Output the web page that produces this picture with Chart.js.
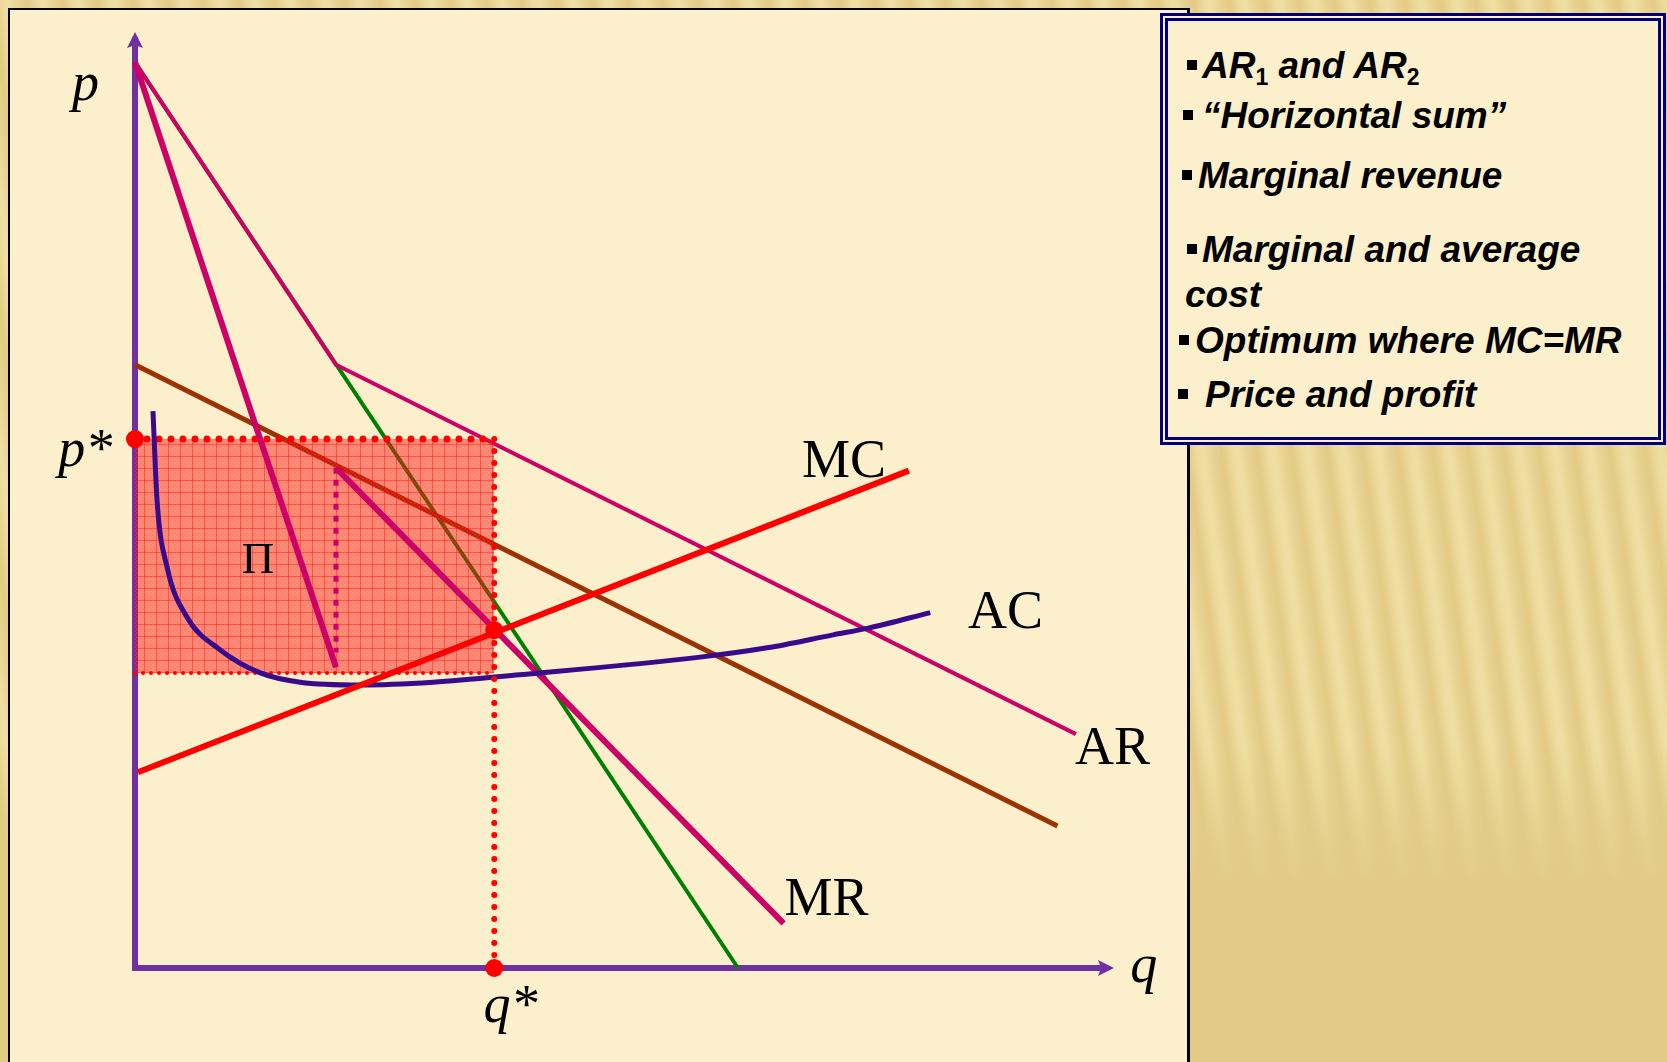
<!DOCTYPE html>
<html>
<head>
<meta charset="utf-8">
<script src="https://cdn.jsdelivr.net/npm/chart.js@4.4.1/dist/chart.umd.min.js"></script>
<style>
html, body { margin: 0; padding: 0; }
body {
  width: 1667px; height: 1062px; overflow: hidden; position: relative;
  background:
    linear-gradient(to bottom, rgba(226,201,133,0) 0%, rgba(226,201,133,0) 70%, rgba(226,201,133,1) 84%),
    repeating-linear-gradient(82deg, #e4cb86 0px, #eddb9e 10px, #f0dfa4 16px, #e9d494 24px, #e3ca85 35px);
}
#panel { position: absolute; left: 8px; top: 8px; width: 1177px; height: 1070px; background: #fcefcb; border: 2px solid #000; border-right-width: 3px; }
#chartWrap { position: absolute; left: 0; top: 0; width: 1667px; height: 1062px; }
#notes { position: absolute; left: 1160px; top: 13px; width: 490px; height: 416px; background: #fcefcb; border: 8px double #000080; }
.ln { position: absolute; font-family: "Liberation Sans", Arial, sans-serif; font-weight: bold; font-style: italic; font-size: 37px; line-height: 37px; white-space: nowrap; color: #000; }
.ln sub { font-size: 23px; font-style: normal; vertical-align: -7px; line-height: 0; }
.b { position: absolute; width: 10px; height: 10px; background: #000; }
</style>
</head>
<body>
<div id="panel"></div>
<div id="chartWrap"><canvas id="monopolyChart"></canvas></div>
<div id="notes"></div>
<div class="b" style="left:1187px;top:60px"></div><div class="ln" style="left:1202px;top:47px">AR<sub>1</sub> and AR<sub>2</sub></div>
<div class="b" style="left:1183px;top:110px"></div><div class="ln" style="left:1202px;top:97px">“Horizontal sum”</div>
<div class="b" style="left:1182px;top:170px"></div><div class="ln" style="left:1198px;top:157px">Marginal revenue</div>
<div class="b" style="left:1187px;top:244px"></div><div class="ln" style="left:1202px;top:231px">Marginal and average</div>
<div class="ln" style="left:1185px;top:276px">cost</div>
<div class="b" style="left:1179px;top:335px"></div><div class="ln" style="left:1195px;top:322px">Optimum where MC=MR</div>
<div class="b" style="left:1178px;top:389px"></div><div class="ln" style="left:1205px;top:376px">Price and profit</div>
<script>
// quantities (q) and prices (p), axes 0..100
const ar1Q = [0, 62.1], ar1P = [97.6, 0];
const mr1Q = [0, 20.7], mr1P = [97.6, 32.4];
const ar2Q = [0, 95.0], ar2P = [65.0, 15.3];
const arQ = [0, 20.7, 96.9], arP = [97.6, 65.0, 25.2];
const mrQ = [20.7, 66.8], mrP = [53.9, 4.8];
const mrGapQ = [20.7, 20.7], mrGapP = [53.9, 34.0];
const mcQ = [0.3, 79.7], mcP = [21.1, 53.6];
const acQ = [1.85, 2.27, 3.3, 5.36, 8.75, 12.9, 17.0, 23.2, 30.7, 39.6, 58.2, 65.1, 71.9, 75.4, 81.9];
const acP = [60.0, 50.4, 43.2, 37.8, 34.3, 31.8, 30.8, 30.5, 30.8, 31.6, 33.5, 34.5, 35.9, 36.6, 38.3];
const qStar = 37.0, pStar = 57.0, mcAtQStar = 36.4, acAtQStar = 31.8;

const notes = [
  { text: 'p', q: -6.5, p: 93.5, italic: true },
  { text: 'p*', q: -7.9, p: 54.1, italic: true },
  { text: 'q*', q: 35.9, p: -5.8, italic: true },
  { text: 'q', q: 102.5, p: -1.5, italic: true },
  { text: 'MC', q: 68.7, p: 52.9 },
  { text: 'AC', q: 85.8, p: 36.6 },
  { text: 'AR', q: 96.8, p: 22.0 },
  { text: 'MR', q: 66.9, p: 5.7 },
  { text: 'Π', q: 11.0, p: 42.6, small: true }
];

const pts = (qs, ps) => qs.map((q, i) => ({ x: q, y: ps[i] }));

function hatch() {
  const c = document.createElement('canvas');
  c.width = 12; c.height = 12;
  const g = c.getContext('2d');
  g.fillStyle = 'rgba(255,0,0,0.45)';
  g.fillRect(0, 0, 12, 12);
  g.fillStyle = 'rgba(255,255,255,0.08)';
  for (let y = 0; y < 12; y += 2) {
    for (let x = (y / 2) % 2 * 2; x < 12; x += 4) g.fillRect(x, y, 2, 2);
  }
  g.fillStyle = 'rgba(255,0,0,0.4)';
  g.fillRect(0, 0, 12, 1);
  g.fillRect(0, 0, 1, 12);
  return g.createPattern(c, 'repeat');
}

const purple = '#7030a0';
const magenta = '#cc0066';

const line = (data, color, width, order, extra) => Object.assign({
  data, borderColor: color, borderWidth: width, showLine: true,
  pointRadius: 0, tension: 0, fill: false, order, clip: false
}, extra || {});

const axisArrows = {
  id: 'axisArrows',
  afterDraw(chart) {
    const { ctx, scales: { x, y } } = chart;
    const x0 = x.getPixelForValue(0), y0 = y.getPixelForValue(0);
    const xe = x.getPixelForValue(100), ye = y.getPixelForValue(100);
    ctx.save();
    ctx.fillStyle = purple;
    ctx.beginPath();
    ctx.moveTo(xe + 8, y0); ctx.lineTo(xe - 8, y0 - 8); ctx.lineTo(xe - 5, y0); ctx.lineTo(xe - 8, y0 + 8);
    ctx.closePath(); ctx.fill();
    ctx.beginPath();
    ctx.moveTo(x0, ye - 8); ctx.lineTo(x0 - 8, ye + 8); ctx.lineTo(x0, ye + 5); ctx.lineTo(x0 + 8, ye + 8);
    ctx.closePath(); ctx.fill();
    ctx.restore();
  }
};

const textNotes = {
  id: 'textNotes',
  afterDraw(chart) {
    const { ctx, scales: { x, y } } = chart;
    ctx.save();
    ctx.fillStyle = '#000';
    ctx.textBaseline = 'alphabetic';
    notes.forEach(n => {
      ctx.font = (n.italic ? 'italic ' : '') + (n.small ? '45px' : '54px') + ' "Liberation Serif", "Times New Roman", serif';
      ctx.fillText(n.text, x.getPixelForValue(n.q), y.getPixelForValue(n.p));
    });
    ctx.restore();
  }
};

new Chart(document.getElementById('monopolyChart'), {
  type: 'scatter',
  data: {
    datasets: [
      line(pts(ar1Q, ar1P), '#008000', 4, 12),
      line(pts(ar2Q, ar2P), '#993300', 5, 11),
      line(pts(arQ, arP), magenta, 4, 10),
      line(pts([0, qStar], [pStar, pStar]), '#ff0000', 7, 9,
        { fill: { target: 4 }, backgroundColor: hatch(), borderDash: [0, 12], borderCapStyle: 'round' }),
      line(pts([0, qStar], [acAtQStar, acAtQStar]), '#ff0000', 4, 8,
        { borderDash: [0, 8], borderCapStyle: 'round' }),
      line(pts(mr1Q, mr1P), magenta, 6, 7),
      line(pts(mrQ, mrP), magenta, 6, 6),
      line(pts(mrGapQ, mrGapP), magenta, 5, 5, { borderDash: [6, 6] }),
      line(pts(acQ, acP), '#3a0a8c', 5, 4, { cubicInterpolationMode: 'monotone' }),
      line(pts(mcQ, mcP), '#ff0000', 6, 3),
      line(pts([qStar, qStar], [pStar, 0]), '#ff0000', 6, 2,
        { borderDash: [0, 12], borderCapStyle: 'round' }),
      {
        data: pts([0, qStar, qStar], [pStar, mcAtQStar, 0]),
        showLine: false, pointRadius: 9, pointBackgroundColor: '#ff0000',
        pointBorderWidth: 0, order: 1, clip: false
      }
    ]
  },
  options: {
    responsive: true,
    maintainAspectRatio: false,
    animation: false,
    layout: { padding: { left: 135, top: 40, right: 561, bottom: 94 } },
    plugins: { legend: { display: false }, tooltip: { enabled: false } },
    scales: {
      x: {
        type: 'linear', min: 0, max: 100,
        grid: { display: false, drawTicks: false },
        ticks: { display: false },
        border: { display: true, color: purple, width: 6 }
      },
      y: {
        type: 'linear', min: 0, max: 100,
        grid: { display: false, drawTicks: false },
        ticks: { display: false },
        border: { display: true, color: purple, width: 6 }
      }
    }
  },
  plugins: [axisArrows, textNotes]
});
</script>
</body>
</html>
